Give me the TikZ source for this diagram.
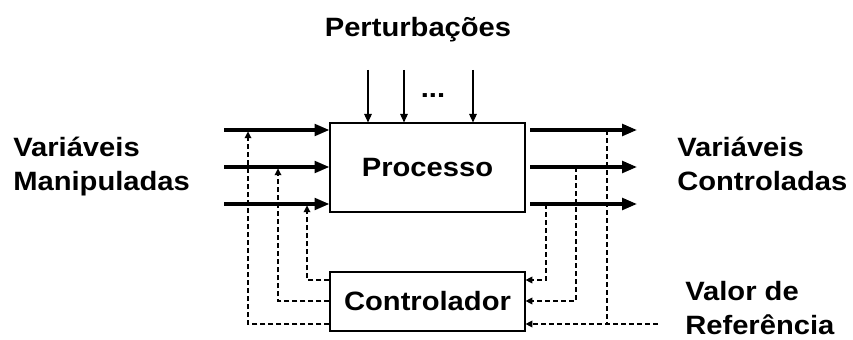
\documentclass[tikz,border=0pt]{standalone}
\usepackage{fontspec}
\setmainfont[FakeStretch=1.1]{Liberation Sans}
\usepackage{tikz}
\usetikzlibrary{arrows.meta}

\begin{document}
\begin{tikzpicture}[x=0.025cm, y=-0.025cm,
        every node/.style={inner sep=0pt, font=\fontsize{18.85}{24.2}\selectfont\bfseries},
        block/.style={rectangle, draw, line width=0.8pt, minimum width=138.7pt},
        flow/.style={line width=2.3pt, -{Triangle[length=10.5pt, width=8.2pt]}},
        dist/.style={line width=0.75pt, -{Triangle[length=6pt, width=5.4pt]}},
        fb/.style={line width=0.75pt, dash pattern=on 3.6pt off 2.1pt},
        fbarrow/.style={fb, -{Triangle[length=4.8pt, width=4.8pt]}}]
        \useasboundingbox (0, 0) rectangle (853, 340);

        % blocks
        \node (proc)[block, minimum height=63.3pt] at (427.5, 167.5) {Processo};
        \node (ctrl)[block, minimum height=42pt] at (427.5, 301.5) {Controlador};

        % labels
        \node (pert)[anchor=base] at (418, 37) {Perturbações};
        \node (dots)[anchor=base] at (433, 98) {...};
        \node (manip)[anchor=west, align=left] at (13, 167) {Variáveis\\Manipuladas};
        \node (contr)[anchor=west, align=left] at (677, 164) {Variáveis\\Controladas};
        \node (ref)[anchor=west, align=left] at (685, 308) {Valor de\\Referência};

        % disturbances
        \coordinate (d1) at (368, 70);
        \coordinate (d2) at (404, 70);
        \coordinate (d3) at (473, 70);
        \draw[dist] (d1) -- (d1 |- proc.north);
        \draw[dist] (d2) -- (d2 |- proc.north);
        \draw[dist] (d3) -- (d3 |- proc.north);

        % manipulated and controlled variables
        \coordinate (in1) at (224, 130);
        \coordinate (in2) at (224, 167);
        \coordinate (in3) at (224, 204);
        \coordinate (out1) at (530, 130);
        \coordinate (out2) at (530, 167);
        \coordinate (out3) at (530, 204);
        \draw[flow] (in1) -- (in1 -| proc.west);
        \draw[flow] (in2) -- (in2 -| proc.west);
        \draw[flow] (in3) -- (in3 -| proc.west);
        \draw[flow] (out1) -- (637, 130);
        \draw[flow] (out2) -- (637, 167);
        \draw[flow] (out3) -- (637, 204);

        % controller outputs
        \draw[fbarrow] (ctrl.west |- 0, 280) -| (307, 205.5);
        \draw[fbarrow] (ctrl.west |- 0, 301) -| (278, 168.5);
        \draw[fbarrow] (ctrl.west |- 0, 324) -| (248, 131.5);

        % measurements and set point
        \draw[fbarrow] (546, 204) |- (ctrl.east |- 0, 280);
        \draw[fbarrow] (576, 167) |- (ctrl.east |- 0, 301);
        \draw[fb] (607, 130) -- (607, 324);
        \coordinate (sp) at (658, 324);
        \draw[fbarrow] (sp) -- (sp -| ctrl.east);
    \end{tikzpicture}
\end{document}
